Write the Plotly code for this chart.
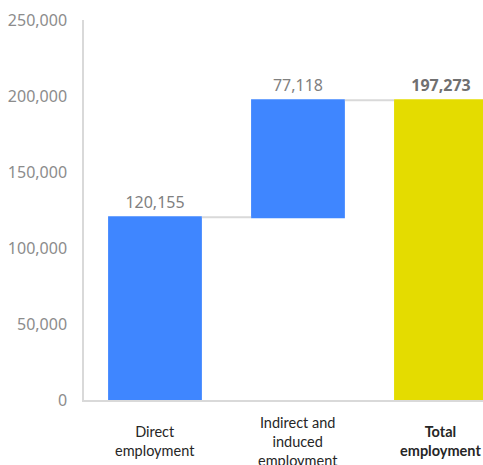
import plotly.graph_objects as go

categories = ["Direct<br>employment", "Indirect and<br>induced<br>employment", "<b>Total<br>employment</b>"]
values = [120155, 77118, 197273]
measures = ["relative", "relative", "total"]
y_ticks = [0, 50000, 100000, 150000, 200000, 250000]

xs = list(range(len(categories)))
texts = [f"{v:,}" if m != "total" else f"<b>{v:,}</b>" for v, m in zip(values, measures)]

fig = go.Figure()
fig.add_trace(go.Waterfall(
    x=xs,
    y=values,
    measure=measures,
    text=texts,
    textposition="outside",
    textfont=dict(family="Noto Sans", size=16, color=["#808080", "#808080", "#707070"]),
    increasing=dict(marker=dict(color="#3F86FF", line=dict(width=0))),
    totals=dict(marker=dict(color="#E4DC00", line=dict(width=0))),
    connector=dict(line=dict(color="#D9D9D9", width=2), mode="between"),
    width=0.656,
    cliponaxis=True,
    hoverinfo="skip",
))

for i, c in enumerate(categories):
    fig.add_annotation(
        x=i, xref="x", y=0, yref="paper", yshift=-41,
        text=c, showarrow=False, xanchor="center", yanchor="middle",
        font=dict(family="Lato", size=14.5, color="#262626"),
        align="center",
    )

fig.update_layout(
    width=483, height=465,
    margin=dict(l=84, r=0, t=20, b=65),
    paper_bgcolor="white", plot_bgcolor="white",
    showlegend=False,
    xaxis=dict(range=[-0.4965, 2.294], showticklabels=False, showgrid=False,
               zeroline=False, showline=True, linecolor="#D9D9D9", linewidth=1.5,
               ticks=""),
    yaxis=dict(range=[0, 250000], tickvals=y_ticks, tickformat=",", showgrid=False,
               zeroline=False, showline=True, linecolor="#D9D9D9", linewidth=1.5,
               ticks="", ticklabelstandoff=12,
               tickfont=dict(family="Noto Sans", size=16, color="#8C8C8C")),
    font=dict(family="Noto Sans"),
)

fig.write_html(
    "out.html",
    config={"displayModeBar": False},
    post_script="document.body.style.margin='0';document.body.style.overflow='hidden';",
)
